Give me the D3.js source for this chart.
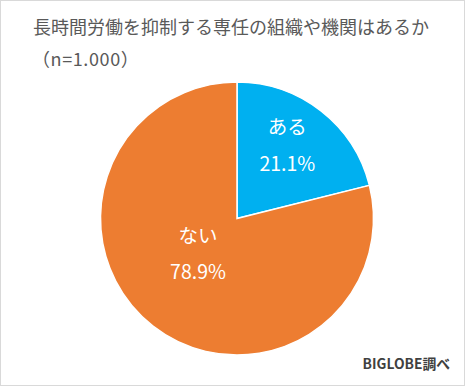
<!DOCTYPE html>
<html><head><meta charset="utf-8">
<script src="https://cdn.jsdelivr.net/npm/d3@7/dist/d3.min.js"></script>
<style>
body{margin:0;background:#fff;}
svg text{font-family:"Noto Sans CJK JP","Noto Sans",sans-serif;}
</style></head>
<body>
<svg id="c" width="465" height="386"></svg>
<script>
const categories = ["ある", "ない"];
const values = [21.1, 78.9];
const colors = ["#00B0F0", "#ED7D31"];
const title = "長時間労働を抑制する専任の組織や機関はあるか";
const subtitle = "（n=1.000）";
const source = "BIGLOBE調べ";

// label placement style: [radius factor, angle offset in radians]
const labelPlacement = [[0.65, -0.06], [0.386, 0.17]];

const svg = d3.select("#c");
svg.append("rect").attr("x",0.5).attr("y",0.5).attr("width",464).attr("height",385)
  .attr("fill","#fff").attr("stroke","#d9d9d9");

svg.append("text").attr("x",33).attr("y",34).attr("font-size",18).attr("fill","#595959").text(title);
svg.append("text").attr("x",32).attr("y",66).attr("font-size",18).attr("fill","#595959")
  .attr("letter-spacing",0.6).text(subtitle);

const cx = 237, cy = 218.5, r = 136.5;
const g = svg.append("g").attr("transform",`translate(${cx},${cy})`);
const pie = d3.pie().sort(null).value(d=>d.v);
const data = pie(categories.map((c,i)=>({c, v:values[i], col:colors[i]})));
const arc = d3.arc().innerRadius(0).outerRadius(r);
g.selectAll("path").data(data).join("path")
  .attr("d",arc).attr("fill",d=>d.data.col).attr("stroke","#fff").attr("stroke-width",1.5);

data.forEach((d,i)=>{
  const [rf, off] = labelPlacement[i];
  const a = (d.startAngle + d.endAngle)/2 + off;
  const x = Math.sin(a)*r*rf, y = -Math.cos(a)*r*rf;
  const t = g.append("text").attr("text-anchor","middle").attr("fill","#fff").attr("font-size",19.5);
  t.append("tspan").attr("x",x).attr("y",y-11).text(d.data.c);
  t.append("tspan").attr("x",x).attr("y",y+25.5).text(d.data.v.toFixed(1)+"%");
});

svg.append("text").attr("x",450).attr("y",369).attr("text-anchor","end")
  .attr("font-size",13.8).attr("font-weight","bold").attr("fill","#404040").text(source);
</script>
</body></html>
